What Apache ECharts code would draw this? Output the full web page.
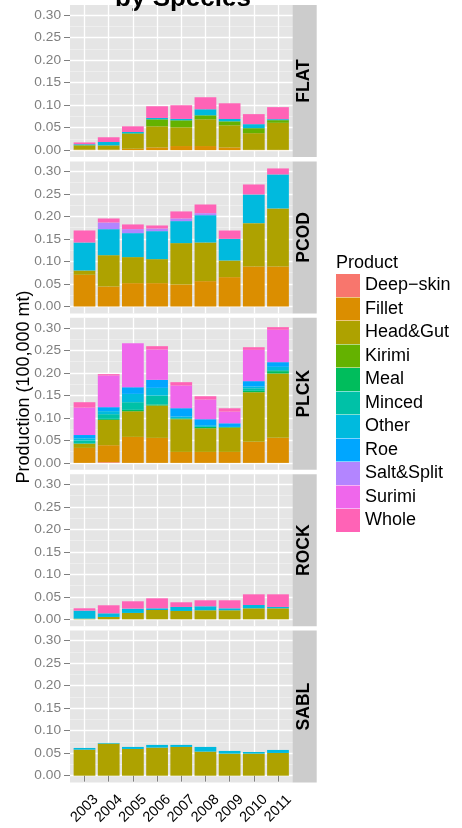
<!DOCTYPE html>
<html><head><meta charset="utf-8">
<script src="https://cdn.jsdelivr.net/npm/echarts@6/dist/echarts.min.js"></script>
<style>html,body{margin:0;padding:0;background:#fff}#c{width:462px;height:828px}</style>
</head><body><div id="c"></div><script>
const years = ['2003','2004','2005','2006','2007','2008','2009','2010','2011'];
const species = ['FLAT','PCOD','PLCK','ROCK','SABL'];
const products = ['Deep\u2212skin','Fillet','Head&Gut','Kirimi','Meal','Minced','Other','Roe','Salt&Split','Surimi','Whole'];
const productColors = ['#F8766D','#DB8E00','#AEA200','#64B200','#00BD5C','#00C1A7','#00BADE','#00A6FF','#B385FF','#EF67EB','#FF63B6'];
const yTickValues = [0, 0.05, 0.10, 0.15, 0.20, 0.25, 0.30];
const yAxisTitle = 'Production (100,000 mt)';
const legendTitle = 'Product';
const mainTitle = 'by Species';

// FLAT
const flatFillet  = [0.001, 0.001, 0.003, 0.006, 0.009, 0.009, 0.006, 0.0005, 0.0005];
const flatHeadGut = [0.009, 0.0095, 0.0327, 0.0468, 0.0416, 0.0594, 0.049, 0.0371, 0.0601];
const flatKirimi  = [0.001, 0, 0.0015, 0.0156, 0.0156, 0.0089, 0.0089, 0.0111, 0.0059];
const flatOther   = [0.002, 0.0075, 0.003, 0.003, 0.003, 0.0134, 0.0052, 0.0089, 0.0022];
const flatWhole   = [0.004, 0.0105, 0.0126, 0.026, 0.0304, 0.0267, 0.0349, 0.0223, 0.0267];
// PCOD
const pcodFillet    = [0.0704, 0.0444, 0.0519, 0.0519, 0.0489, 0.0563, 0.0652, 0.0889, 0.0889];
const pcodHeadGut   = [0.0096, 0.0696, 0.0578, 0.0533, 0.0919, 0.0859, 0.037, 0.0963, 0.1289];
const pcodOther     = [0.0622, 0.0578, 0.0533, 0.0622, 0.0489, 0.0607, 0.0481, 0.0637, 0.0756];
const pcodSaltSplit = [0, 0.0148, 0.0089, 0.0059, 0.0059, 0.0044, 0, 0, 0];
const pcodWhole     = [0.0267, 0.0089, 0.0104, 0.0067, 0.0156, 0.0193, 0.0185, 0.0222, 0.0133];
// PLCK
const plckDeepSkin = [0, 0.0015, 0, 0, 0, 0, 0, 0, 0];
const plckFillet   = [0.0333, 0.0378, 0.0578, 0.0556, 0.0244, 0.0244, 0.0244, 0.0467, 0.0556];
const plckHeadGut  = [0.0096, 0.0563, 0.057, 0.0719, 0.0726, 0.0526, 0.054, 0.1104, 0.143];
const plckMeal     = [0, 0.0022, 0.003, 0.0022, 0.002, 0.003, 0.0015, 0.003, 0.0052];
const plckMinced   = [0.007, 0.0104, 0.017, 0.02, 0, 0, 0, 0.0056, 0.0022];
const plckOther    = [0.0045, 0.0067, 0.0185, 0.017, 0.004, 0.0037, 0, 0.004, 0.0074];
const plckRoe      = [0.0075, 0.0089, 0.0148, 0.0178, 0.0185, 0.0133, 0.0081, 0.0119, 0.0104];
const plckSurimi   = [0.061, 0.0704, 0.0978, 0.0674, 0.0504, 0.0437, 0.0259, 0.0695, 0.0719];
const plckWhole    = [0.0119, 0.003, 0, 0.0074, 0.0074, 0.0074, 0.0074, 0.0059, 0.0059];
// ROCK
const rockHeadGut = [0.0015, 0.0052, 0.0141, 0.0207, 0.0185, 0.02, 0.02, 0.0244, 0.0244];
const rockOther   = [0.0178, 0.0081, 0.0096, 0.0037, 0.0089, 0.0089, 0.0044, 0.0074, 0.003];
const rockWhole   = [0.0052, 0.0178, 0.0163, 0.0222, 0.0104, 0.0133, 0.0178, 0.0237, 0.0281];
// SABL
const sablHeadGut = [0.0579, 0.0713, 0.0594, 0.0624, 0.0639, 0.0535, 0.049, 0.049, 0.0505];
const sablOther   = [0.0037, 0.0015, 0.0045, 0.006, 0.0045, 0.0104, 0.006, 0.0037, 0.0067];

const panelData = [
  {'Fillet': flatFillet, 'Head&Gut': flatHeadGut, 'Kirimi': flatKirimi, 'Other': flatOther, 'Whole': flatWhole},
  {'Fillet': pcodFillet, 'Head&Gut': pcodHeadGut, 'Other': pcodOther, 'Salt&Split': pcodSaltSplit, 'Whole': pcodWhole},
  {'Deep\u2212skin': plckDeepSkin, 'Fillet': plckFillet, 'Head&Gut': plckHeadGut, 'Meal': plckMeal, 'Minced': plckMinced,
   'Other': plckOther, 'Roe': plckRoe, 'Surimi': plckSurimi, 'Whole': plckWhole},
  {'Head&Gut': rockHeadGut, 'Other': rockOther, 'Whole': rockWhole},
  {'Head&Gut': sablHeadGut, 'Other': sablOther}
];

const FONT = '"Liberation Sans", Arial, Helvetica, sans-serif';
const PANEL_LEFT = 70, PANEL_W = 222.5, PANEL_H = 152, PANEL_TOP0 = 5, PANEL_STEP = 156.4;
const STRIP_W = 24.2;
const Y_MIN = -0.01535, Y_MAX = 0.32235;
const X_EXPAND = 0.6;                                   // ggplot discrete expansion
const unitW = PANEL_W / (years.length - 1 + 2 * X_EXPAND);
const xTickValues = years.map((y, i) => i + 1);
const N = species.length;

const grids = [], xAxes = [], yAxes = [], series = [], graphics = [];
// background panels (full width, gridlines, axes)
species.forEach((sp, i) => {
  const top = PANEL_TOP0 + i * PANEL_STEP;
  const isBottom = i === N - 1;
  grids.push({left: PANEL_LEFT, top: top, width: PANEL_W, height: PANEL_H,
    show: true, backgroundColor: '#E5E5E5', borderWidth: 0, containLabel: false, outerBoundsMode: 'none'});
  xAxes.push({
    type: 'value', gridIndex: i, min: 0.4, max: 9.6,
    axisLine: {show: false},
    axisTick: {show: isBottom, length: 6, lineStyle: {color: '#7F7F7F', width: 1}, customValues: xTickValues},
    axisLabel: {show: isBottom, customValues: xTickValues,
      formatter: v => years[Math.round(v) - 1] || '',
      rotate: 45, align: 'center', verticalAlign: 'middle', margin: 26,
      fontSize: 14.5, color: '#000', fontFamily: FONT},
    splitLine: {show: true, lineStyle: {color: '#FFFFFF', width: 1.3}},
    minorSplitLine: {show: false}
  });
  yAxes.push({
    type: 'value', gridIndex: i, min: Y_MIN, max: Y_MAX,
    axisLine: {show: false},
    axisTick: {show: true, length: 6, lineStyle: {color: '#7F7F7F', width: 1}, customValues: yTickValues},
    axisLabel: {show: true, customValues: yTickValues, formatter: v => v.toFixed(2),
      margin: 9, fontSize: 13.7, color: '#7F7F7F', fontFamily: FONT},
    splitLine: {show: true, lineStyle: {color: '#FFFFFF', width: 1.3}},
    minorTick: {show: false, splitNumber: 2},
    minorSplitLine: {show: true, lineStyle: {color: '#F2F2F2', width: 0.7}}
  });
  graphics.push({type: 'rect', shape: {x: PANEL_LEFT + PANEL_W, y: top, width: STRIP_W, height: PANEL_H},
    style: {fill: '#CCCCCC'}, silent: true});
  graphics.push({type: 'text', x: PANEL_LEFT + PANEL_W + STRIP_W / 2, y: top + PANEL_H / 2, rotation: Math.PI / 2,
    style: {text: sp, font: 'bold 17.5px ' + FONT, fill: '#000', align: 'center', verticalAlign: 'middle'}, silent: true});
});
// bar panels (category axis, inset by ggplot's expansion)
species.forEach((sp, i) => {
  const top = PANEL_TOP0 + i * PANEL_STEP;
  const g = N + i;
  grids.push({left: PANEL_LEFT + (X_EXPAND - 0.5) * unitW, top: top, width: years.length * unitW, height: PANEL_H,
    show: false, containLabel: false, outerBoundsMode: 'none'});
  xAxes.push({type: 'category', gridIndex: g, data: years, boundaryGap: true, show: false});
  yAxes.push({type: 'value', gridIndex: g, min: Y_MIN, max: Y_MAX, show: false});
  products.forEach((p, k) => {
    const arr = panelData[i][p];
    if (!arr) return;
    series.push({
      type: 'bar', name: p, xAxisIndex: g, yAxisIndex: g, stack: 'st' + i,
      barWidth: '90%', itemStyle: {color: productColors[k]},
      emphasis: {disabled: true}, silent: true,
      data: arr
    });
  });
});

graphics.push({type: 'text', x: 24, y: 387, rotation: Math.PI / 2,
  style: {text: yAxisTitle, font: '18px ' + FONT, fill: '#000', align: 'center', verticalAlign: 'middle'}, silent: true});
graphics.push({type: 'text', x: 336, y: 263,
  style: {text: legendTitle, font: '18px ' + FONT, fill: '#000', align: 'left', verticalAlign: 'middle'}, silent: true});
graphics.push({type: 'text', x: 183, y: 12,
  style: {text: mainTitle, font: 'bold 26px ' + FONT, fill: '#000', align: 'center', verticalAlign: 'bottom'}, silent: true});

const chart = echarts.init(document.getElementById('c'), null, {renderer: 'canvas'});
chart.setOption({
  animation: false,
  color: productColors,
  grid: grids, xAxis: xAxes, yAxis: yAxes, series: series,
  legend: {
    data: products, orient: 'vertical', left: 336, top: 274,
    itemWidth: 24, itemHeight: 23, itemGap: 0.5, icon: 'rect', selectedMode: false,
    textStyle: {fontSize: 18, color: '#000', fontFamily: FONT}, padding: 0
  },
  graphic: graphics
});
</script></body></html>
